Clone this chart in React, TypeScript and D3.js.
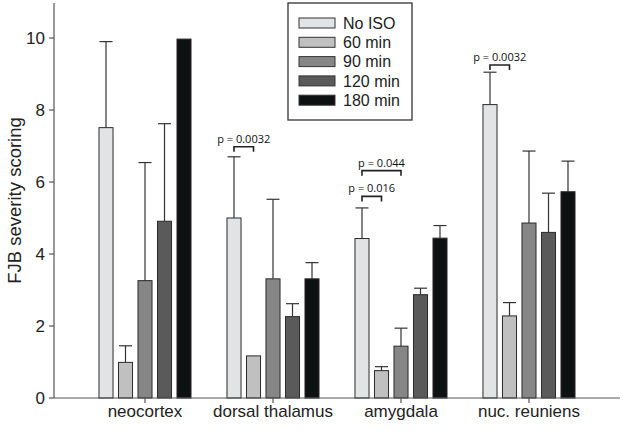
import React from "react";
import * as d3 from "d3";

const categories = ["neocortex", "dorsal thalamus", "amygdala", "nuc. reuniens"];
const seriesNames = ["No ISO", "60 min", "90 min", "120 min", "180 min"];
const seriesColors = ["#e2e3e5", "#c0c0c0", "#868686", "#595a59", "#0d1112"];
// means per category, per series
const means = [
  [7.51, 0.99, 3.26, 4.91, 9.97],
  [5.0, 1.17, 3.31, 2.26, 3.31],
  [4.43, 0.76, 1.44, 2.87, 4.44],
  [8.15, 2.28, 4.86, 4.6, 5.73],
];
// upper error values (mean + SE); null = no error bar
const errTops: (number | null)[][] = [
  [9.9, 1.45, 6.54, 7.62, null],
  [6.7, null, 5.52, 2.62, 3.76],
  [5.28, 0.87, 1.94, 3.05, 4.79],
  [9.05, 2.65, 6.86, 5.69, 6.58],
];
const yTicks = [0, 2, 4, 6, 8, 10];
// significance annotations: category index, series a, series b, level (value), label
const sigs = [
  { cat: 1, a: 0, b: 1, level: 6.98, label: "p = 0.0032" },
  { cat: 2, a: 0, b: 1, level: 5.6, label: "p = 0.016" },
  { cat: 2, a: 0, b: 2, level: 6.315, label: "p = 0.044" },
  { cat: 3, a: 0, b: 1, level: 9.25, label: "p = 0.0032" },
];

const W = 623;
const H = 434;
const left = 54;
const right = 620;
const bottom = 398;

export default function App() {
  const y = d3.scaleLinear().domain([0, 11]).range([bottom, 2]);
  const x0 = d3
    .scaleBand<string>()
    .domain(categories)
    .range([left, right])
    .paddingInner(0)
    .paddingOuter(0.211);
  const x1 = d3
    .scaleBand<string>()
    .domain(seriesNames)
    .range([-48.75, 48.75])
    .paddingInner(0.28)
    .paddingOuter(0.14);
  const bw = x1.bandwidth();
  const font = "Liberation Sans, Arial, sans-serif";

  return (
    <svg
      width={W}
      height={H}
      style={{ position: "absolute", left: 0, top: 0, background: "#fff" }}
    >
      {/* bars */}
      {categories.map((c, ci) => {
        const cx = x0(c)! + x0.bandwidth() / 2;
        return (
          <g key={c}>
            {seriesNames.map((s, si) => {
              const bx = cx + x1(s)!;
              const v = means[ci][si];
              const e = errTops[ci][si];
              const mid = bx + bw / 2;
              return (
                <g key={s}>
                  {e !== null && (
                    <g stroke="#333" strokeWidth={1.2}>
                      <line x1={mid} x2={mid} y1={y(v)} y2={y(e)} />
                      <line x1={mid - 6.5} x2={mid + 6.5} y1={y(e)} y2={y(e)} />
                    </g>
                  )}
                  <rect
                    x={bx}
                    y={y(v)}
                    width={bw}
                    height={bottom - y(v)}
                    fill={seriesColors[si]}
                    stroke="#2a2a2a"
                    strokeWidth={1}
                  />
                </g>
              );
            })}
          </g>
        );
      })}

      {/* significance brackets */}
      {sigs.map((sg, i) => {
        const cx = x0(categories[sg.cat])! + x0.bandwidth() / 2;
        const xa = cx + x1(seriesNames[sg.a])! + bw / 2;
        const xb = cx + x1(seriesNames[sg.b])! + bw / 2;
        const yy = y(sg.level);
        return (
          <g key={i}>
            <path
              d={`M${xa},${yy + 5}V${yy}H${xb}V${yy + 5}`}
              fill="none"
              stroke="#222"
              strokeWidth={1.6}
            />
            <text
              x={(xa + xb) / 2}
              y={yy - 4}
              textAnchor="middle"
              fontFamily="Open Sans, sans-serif"
              fontSize={11}
              fill="#111"
            >
              {sg.label}
            </text>
          </g>
        );
      })}

      {/* y axis */}
      <line x1={left} x2={left} y1={3} y2={bottom} stroke="#555" strokeWidth={1.2} />
      {yTicks.map((t) => (
        <g key={t}>
          <line x1={left - 5} x2={left} y1={y(t)} y2={y(t)} stroke="#555" strokeWidth={1.2} />
          <text
            x={45}
            y={y(t)}
            dy="0.35em"
            textAnchor="end"
            fontFamily={font}
            fontSize={17}
            fill="#222"
          >
            {t}
          </text>
        </g>
      ))}
      <text
        transform={`translate(21,${(bottom + 3) / 2}) rotate(-90)`}
        textAnchor="middle"
        fontFamily={font}
        fontSize={18.5}
        fill="#222"
      >
        FJB severity scoring
      </text>

      {/* x axis */}
      <line x1={left} x2={right} y1={bottom} y2={bottom} stroke="#555" strokeWidth={1.2} />
      {categories.map((c) => {
        const cx = x0(c)! + x0.bandwidth() / 2;
        return (
          <g key={c}>
            <line x1={cx} x2={cx} y1={bottom} y2={bottom + 5} stroke="#555" strokeWidth={1.2} />
            <text
              x={cx}
              y={417}
              textAnchor="middle"
              fontFamily={font}
              fontSize={17}
              fill="#222"
            >
              {c}
            </text>
          </g>
        );
      })}

      {/* legend */}
      <rect x={288} y={3} width={124} height={117} fill="#fff" stroke="#333" strokeWidth={1.3} />
      {seriesNames.map((s, si) => (
        <g key={s}>
          <rect
            x={299}
            y={18 + si * 19.3}
            width={36}
            height={10}
            fill={seriesColors[si]}
            stroke="#333"
            strokeWidth={1}
          />
          <text
            x={343}
            y={23 + si * 19.3}
            dy="0.36em"
            fontFamily={font}
            fontSize={16}
            fill="#222"
          >
            {s}
          </text>
        </g>
      ))}
    </svg>
  );
}
